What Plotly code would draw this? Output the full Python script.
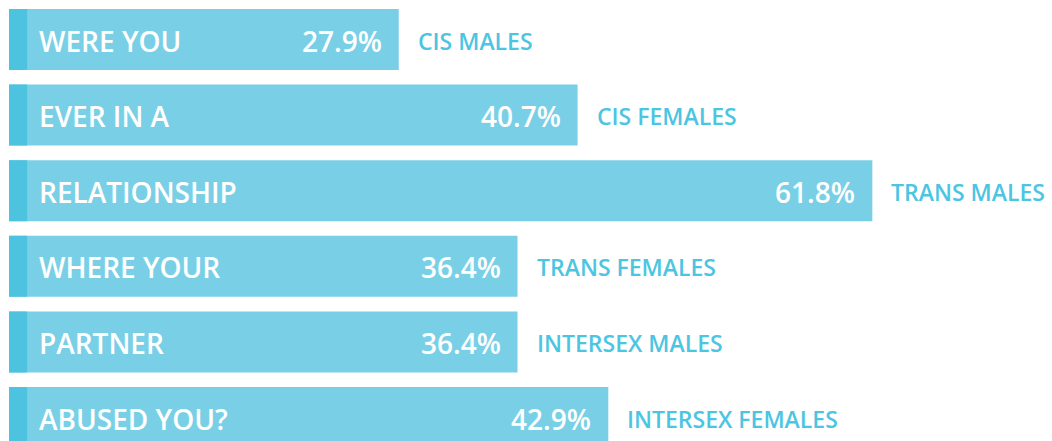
import plotly.graph_objects as go

rows = [0, 1, 2, 3, 4, 5]
inner_labels = ["WERE YOU", "EVER IN A", "RELATIONSHIP", "WHERE YOUR", "PARTNER", "ABUSED YOU?"]
values = [27.9, 40.7, 61.8, 36.4, 36.4, 42.9]
value_labels = ["27.9%", "40.7%", "61.8%", "36.4%", "36.4%", "42.9%"]
groups = ["CIS MALES", "CIS FEMALES", "TRANS MALES", "TRANS FEMALES", "INTERSEX MALES", "INTERSEX FEMALES"]

BAR_COLOR = "#79D0E6"
STRIP_COLOR = "#4DC3E0"
LABEL_COLOR = "#4CC5E2"
STRIP_W = 1.3
FONT = "Open Sans"

fig = go.Figure()
fig.add_trace(go.Bar(x=values, y=rows, orientation="h", marker_color=BAR_COLOR,
                     marker_line_width=0, width=0.807, hoverinfo="skip"))
fig.add_trace(go.Bar(x=[STRIP_W] * len(rows), y=rows, orientation="h", marker_color=STRIP_COLOR,
                     marker_line_width=0, width=0.807, hoverinfo="skip"))

for r, lab, v, vl, g in zip(rows, inner_labels, values, value_labels, groups):
    fig.add_annotation(x=2.0, y=r, text=lab, showarrow=False, xanchor="left", yanchor="middle",
                       yshift=-1, font=dict(family=FONT, size=28, color="white", weight=600))
    fig.add_annotation(x=v, y=r, text=vl, showarrow=False, xanchor="right", yanchor="middle",
                       xshift=-15, yshift=-1, font=dict(family=FONT, size=28, color="white", weight=600))
    fig.add_annotation(x=v, y=r, text=g, showarrow=False, xanchor="left", yanchor="middle",
                       xshift=17, yshift=-1, font=dict(family=FONT, size=23, color=LABEL_COLOR, weight=600))

k = 13.97
fig.update_layout(
    width=1052, height=441, margin=dict(l=0, r=0, t=0, b=0),
    paper_bgcolor="white", plot_bgcolor="white",
    barmode="overlay", showlegend=False,
    xaxis=dict(range=[-9 / k, (1052 - 9) / k], visible=False, fixedrange=True),
    yaxis=dict(range=[(441 - 39.5) / 75.6, -39.5 / 75.6], visible=False, fixedrange=True),
)
fig.write_html("out.html", config={"displayModeBar": False},
               post_script="document.body.style.margin='0';document.body.style.overflow='hidden';")
